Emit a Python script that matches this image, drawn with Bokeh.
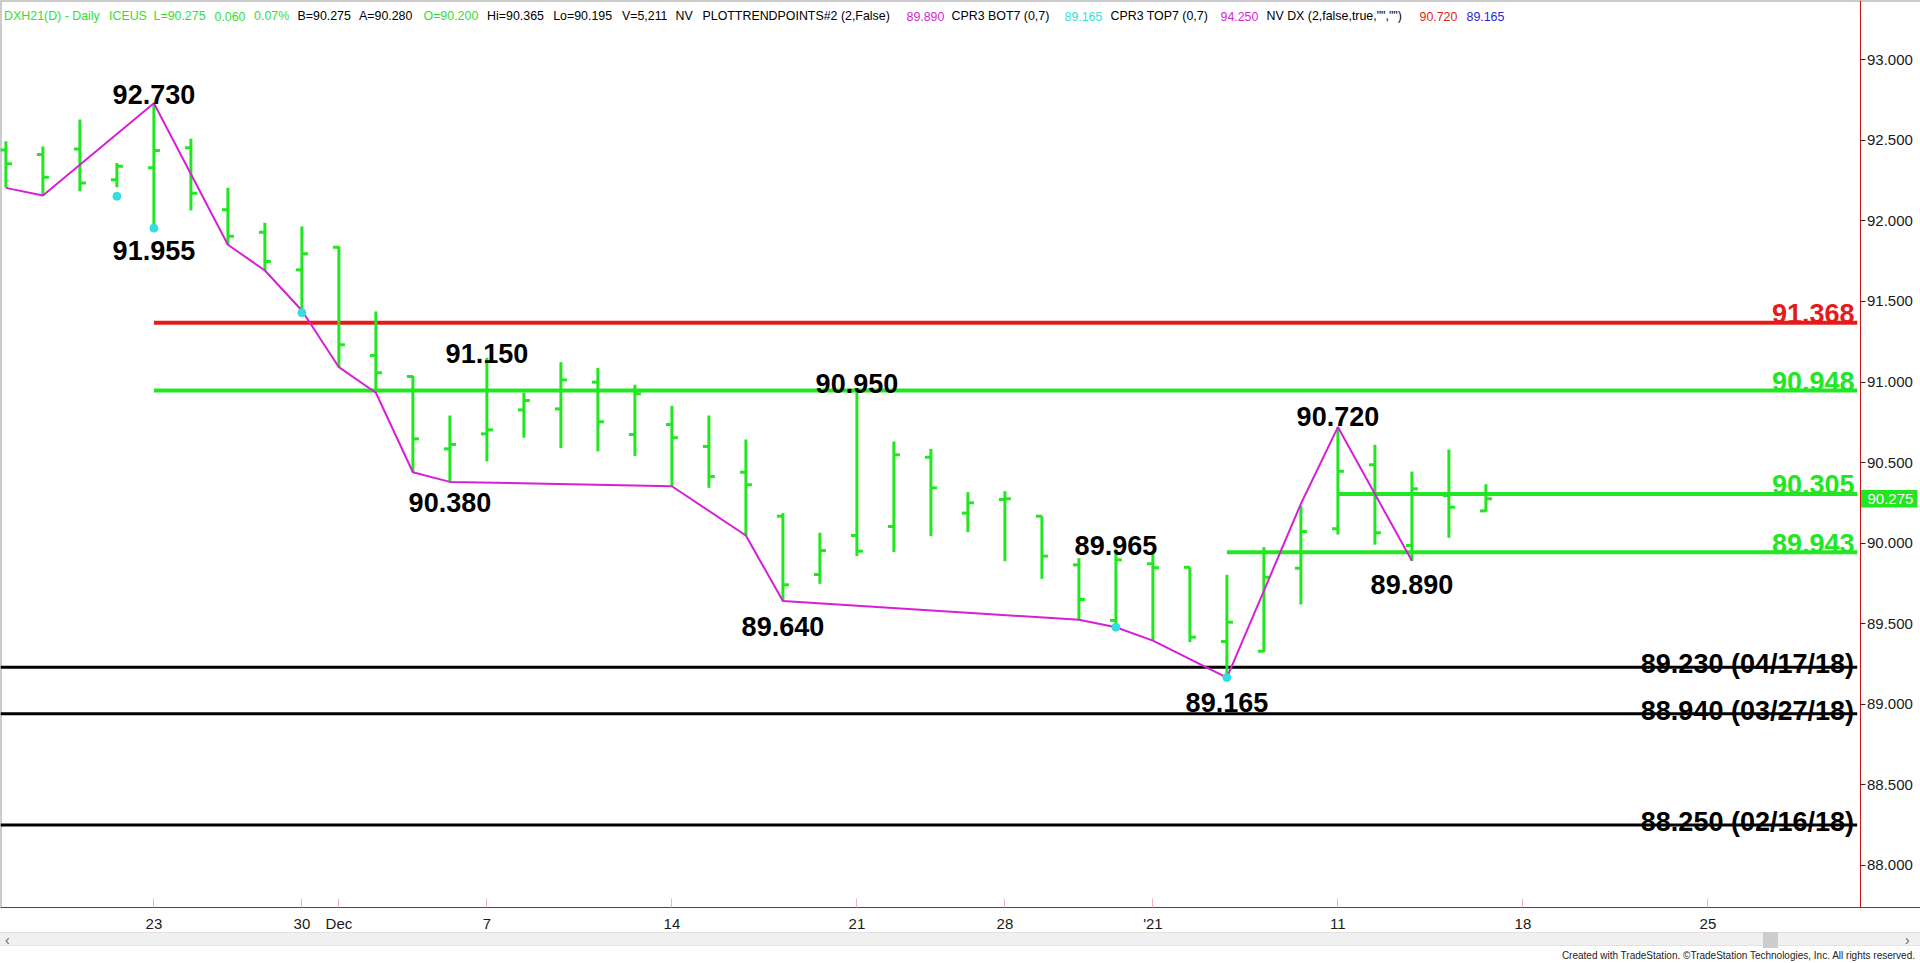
from bokeh.plotting import figure
from bokeh.models import (Range1d, LinearAxis, FixedTicker, NumeralTickFormatter,
                          ColumnDataSource, Div)
from bokeh.layouts import column
from bokeh.embed import file_html
from bokeh.resources import INLINE
from bokeh.core.properties import value

# ---------------- data ----------------
dates = ["2020-11-17", "2020-11-18", "2020-11-19", "2020-11-20", "2020-11-23", "2020-11-24",
         "2020-11-25", "2020-11-27", "2020-11-30", "2020-12-01", "2020-12-02", "2020-12-03",
         "2020-12-04", "2020-12-07", "2020-12-08", "2020-12-09", "2020-12-10", "2020-12-11",
         "2020-12-14", "2020-12-15", "2020-12-16", "2020-12-17", "2020-12-18", "2020-12-21",
         "2020-12-22", "2020-12-23", "2020-12-24", "2020-12-28", "2020-12-29", "2020-12-30",
         "2020-12-31", "2021-01-04", "2021-01-05", "2021-01-06", "2021-01-07", "2021-01-08",
         "2021-01-11", "2021-01-12", "2021-01-13", "2021-01-14", "2021-01-15"]
future_dates = ["2021-01-18", "2021-01-19", "2021-01-20", "2021-01-21", "2021-01-22",
                "2021-01-25", "2021-01-26", "2021-01-27", "2021-01-28", "2021-01-29",
                "2021-02-01", "2021-02-02"]

opens = [92.440, 92.412, 92.447, 92.255, 92.330, 92.454, 92.069, 91.930, 91.696, 91.837,
         91.165, 91.034, 90.585, 90.678, 90.827, 90.833, 90.999, 90.674, 90.736, 90.600,
         90.440, 90.167, 89.805, 90.047, 90.103, 90.533, 90.186, 90.271, 90.167, 89.865,
         89.520, 89.872, 89.850, 89.389, 89.329, 89.844, 90.089, 90.486, 89.985, 90.295,
         90.200]
highs = [92.495, 92.462, 92.629, 92.360, 92.730, 92.510, 92.205, 91.988, 91.965, 91.841,
         91.438, 91.038, 90.792, 91.150, 90.933, 91.123, 91.088, 90.983, 90.852, 90.792,
         90.643, 90.186, 90.064, 90.950, 90.631, 90.585, 90.316, 90.322, 90.167, 89.906,
         89.965, 89.934, 89.850, 89.803, 89.975, 90.233, 90.720, 90.610, 90.444, 90.581,
         90.365]
lows = [92.205, 92.158, 92.184, 92.209, 91.955, 92.065, 91.852, 91.692, 91.430, 91.092,
        90.933, 90.440, 90.380, 90.508, 90.654, 90.589, 90.570, 90.540, 90.353, 90.343,
        90.047, 89.640, 89.747, 89.919, 89.944, 90.043, 90.068, 89.888, 89.778, 89.524,
        89.478, 89.395, 89.385, 89.165, 89.323, 89.619, 90.053, 89.990, 89.890, 90.033,
        90.195]
closes = [92.354, 92.271, 92.236, 92.340, 92.437, 92.172, 91.905, 91.748, 91.796, 91.231,
          91.057, 90.647, 90.612, 90.703, 90.885, 91.013, 90.753, 90.927, 90.654, 90.413,
          90.362, 89.741, 89.954, 89.950, 90.548, 90.343, 90.250, 90.275, 89.919, 89.650,
          89.896, 89.847, 89.416, 89.509, 89.788, 90.072, 90.446, 90.064, 90.337, 90.223,
          90.275]

tick_dates = ["2020-11-23", "2020-11-30", "2020-12-01", "2020-12-07", "2020-12-14", "2020-12-21",
              "2020-12-28", "2021-01-04", "2021-01-11", "2021-01-18", "2021-01-25"]
tick_labels = ["23", "30", "Dec", "7", "14", "21", "28", "'21", "11", "18", "25"]

price_ticks = [88.0, 88.5, 89.0, 89.5, 90.0, 90.5, 91.0, 91.5, 92.0, 92.5, 93.0]

trend_dates = ["2020-11-17", "2020-11-18", "2020-11-23", "2020-11-25", "2020-11-27", "2020-11-30",
               "2020-12-01", "2020-12-02", "2020-12-03", "2020-12-04", "2020-12-14", "2020-12-16",
               "2020-12-17", "2020-12-30", "2020-12-31", "2021-01-04", "2021-01-06", "2021-01-08",
               "2021-01-11", "2021-01-13"]
trend_values = [92.205, 92.158, 92.730, 91.852, 91.692, 91.444, 91.092, 90.933, 90.440, 90.380,
                90.353, 90.047, 89.640, 89.524, 89.478, 89.395, 89.165, 90.244, 90.720, 89.890]

dot_dates = ["2020-11-20", "2020-11-23", "2020-11-30", "2020-12-31", "2021-01-06"]
dot_values = [92.153, 91.955, 91.430, 89.478, 89.165]

pivot_dates = ["2020-11-23", "2020-11-23", "2020-12-07", "2020-12-21", "2020-12-04",
               "2020-12-17", "2020-12-31", "2021-01-06", "2021-01-11", "2021-01-13"]
pivot_values = [92.730, 91.955, 91.150, 90.950, 90.380, 89.640, 89.965, 89.165, 90.720, 89.890]

level_values = [91.368, 90.948, 90.305, 89.943]
level_start_dates = ["2020-11-23", "2020-11-23", "2021-01-11", "2021-01-06"]

support_values = [89.230, 88.940, 88.250]
support_dates = ["04/17/18", "03/27/18", "02/16/18"]

last_price = 90.275

legend_tokens = ["DXH21(D) - Daily", "ICEUS", "L=90.275", "0.060", "0.07%", "B=90.275",
                 "A=90.280", "O=90.200", "Hi=90.365", "Lo=90.195", "V=5,211", "NV",
                 "PLOTTRENDPOINTS#2 (2,False)", "89.890", "CPR3 BOT7 (0,7)", "89.165",
                 "CPR3 TOP7 (0,7)", "94.250", 'NV DX (2,false,true,"","")', "90.720", "89.165"]

# ---------------- style / layout ----------------
GREEN = "#22e622"
LGREEN = "#33dd33"
RED = "#e51b1b"
MAGENTA = "#d61fd6"
CYAN = "#33dede"
BLUE = "#2424e0"
AXIS_RED = "#cc1111"
FONTNAME = "Liberation Sans"
FONT = value(FONTNAME)

legend_colors = [LGREEN, LGREEN, LGREEN, LGREEN, LGREEN, "black", "black", LGREEN, "black",
                 "black", "black", "black", "black", MAGENTA, "black", CYAN, "black", MAGENTA,
                 "black", RED, BLUE]
legend_px = [3.6, 108.5, 153, 214, 253.6, 297, 358.5, 423, 486.6, 552.7, 621.4, 675,
             702, 906, 951, 1064, 1110, 1220, 1266, 1419, 1466]
pivot_offsets = [-8.5, 22.5, -4, -7, 21, 25.5, -3, 24.5, -10.5, 23.7]
level_colors = [RED, GREEN, GREEN, GREEN]

W, H = 1920, 932           # figure (frame fills it)
PX_PER_BAR = 37.0
FIRST_BAR_PX = 5.4         # px of the first bar from the left edge
AXIS_PX = 1859.5           # price axis position (px from left)
DATE_AXIS_PX = 907.3       # date axis position (px from top)
PX_PER_POINT = 161.1       # px per 1.0 of price
REF_PRICE, REF_PRICE_PX = 93.0, 59.3

all_dates = dates + future_dates
pos = {d: i for i, d in enumerate(all_dates)}
idx = list(range(len(dates)))

X0 = -FIRST_BAR_PX / PX_PER_BAR
X1 = X0 + W / PX_PER_BAR
XA = X0 + AXIS_PX / PX_PER_BAR
Y1 = REF_PRICE + REF_PRICE_PX / PX_PER_POINT
Y0 = Y1 - H / PX_PER_POINT
YA = Y1 - DATE_AXIS_PX / PX_PER_POINT

p = figure(width=W, height=H, x_range=Range1d(X0, X1), y_range=Range1d(Y0, Y1),
           output_backend="svg", toolbar_location=None,
           x_axis_location=None, y_axis_location=None,
           min_border_left=0, min_border_top=0, min_border_right=0, min_border_bottom=0,
           background_fill_color="white", border_fill_color="white")
p.xgrid.visible = False
p.ygrid.visible = False
p.outline_line_color = None

# chart border (top and left)
p.segment(x0=[X0, X0], y0=[Y1, YA], x1=[X1, X0], y1=[Y1, Y1], line_color="#9a9a9a", line_width=2)

# price axis
yax = LinearAxis(fixed_location=XA, bounds=(YA, Y1), ticker=FixedTicker(ticks=price_ticks),
                 formatter=NumeralTickFormatter(format="0.000"))
yax.axis_line_color = AXIS_RED
yax.major_tick_in = 0
yax.major_tick_out = 5
yax.major_tick_line_color = "#3a2020"
yax.minor_tick_line_color = None
yax.major_label_standoff = 2
yax.major_label_text_font = FONTNAME
yax.major_label_text_font_size = "15px"
yax.major_label_text_color = "#1a1a1a"
p.add_layout(yax, "right")

# date axis
tick_pos = [pos[d] for d in tick_dates]
xax = LinearAxis(fixed_location=YA, ticker=FixedTicker(ticks=tick_pos),
                 major_label_overrides={t: lab for t, lab in zip(tick_pos, tick_labels)})
xax.axis_line_color = AXIS_RED
xax.major_tick_in = 9
xax.major_tick_out = 0
xax.major_tick_line_color = "#f2b4b4"
xax.minor_tick_line_color = None
xax.major_label_standoff = 7
xax.major_label_text_font = FONTNAME
xax.major_label_text_font_size = "15px"
xax.major_label_text_color = "#1a1a1a"
p.add_layout(xax, "below")

LINE_END = XA - 2.8 / PX_PER_BAR

# level lines
lvl = ColumnDataSource(dict(x0=[pos[d] for d in level_start_dates],
                            x1=[LINE_END] * len(level_values), xa=[XA] * len(level_values),
                            y=level_values, color=level_colors,
                            txt=[f"{v:.3f}" for v in level_values]))
p.segment(x0="x0", y0="y", x1="x1", y1="y", line_color="color", line_width=4, source=lvl)
p.text(x="xa", y="y", text="txt", text_color="color", text_font=FONT, text_font_style="bold",
       text_font_size="27px", text_align="right", text_baseline="alphabetic",
       x_offset=-5.5, y_offset=-9, source=lvl)

sup = ColumnDataSource(dict(x0=[X0] * len(support_values), x1=[LINE_END] * len(support_values),
                            xa=[XA] * len(support_values), y=support_values,
                            txt=[f"{v:.3f} ({d})" for v, d in zip(support_values, support_dates)]))
p.segment(x0="x0", y0="y", x1="x1", y1="y", line_color="black", line_width=3, source=sup)
p.text(x="xa", y="y", text="txt", text_color="black", text_font=FONT, text_font_style="bold",
       text_font_size="27px", text_align="right", text_baseline="alphabetic",
       x_offset=-6, y_offset=-3, source=sup)

# OHLC bars
tw = 6 / PX_PER_BAR
bars = ColumnDataSource(dict(x=idx, o=opens, h=highs, l=lows, c=closes,
                             xl=[i - tw for i in idx], xr=[i + tw for i in idx]))
p.segment(x0="x", y0="l", x1="x", y1="h", line_color=GREEN, line_width=3, source=bars)
p.segment(x0="xl", y0="o", x1="x", y1="o", line_color=GREEN, line_width=3, source=bars)
p.segment(x0="x", y0="c", x1="xr", y1="c", line_color=GREEN, line_width=3, source=bars)

# trend line and dots
p.line([pos[d] for d in trend_dates], trend_values, line_color=MAGENTA, line_width=2)
p.scatter([pos[d] for d in dot_dates], dot_values, size=8, fill_color=CYAN, line_color=CYAN)

# pivot labels
pv = ColumnDataSource(dict(x=[pos[d] for d in pivot_dates], y=pivot_values,
                           txt=[f"{v:.3f}" for v in pivot_values], off=pivot_offsets))
p.text(x="x", y="y", text="txt", text_color="black", text_font=FONT, text_font_style="bold",
       text_font_size="27px", text_align="center", text_baseline="alphabetic",
       y_offset="off", source=pv)

# legend line at top
lg = ColumnDataSource(dict(x=[X0] * len(legend_tokens), y=[Y1] * len(legend_tokens),
                           txt=legend_tokens, color=legend_colors, xo=legend_px))
p.text(x="x", y="y", text="txt", text_color="color", text_font=FONT, text_font_size="12.4px",
       text_align="left", text_baseline="alphabetic", x_offset="xo", y_offset=15.8, source=lg)

# last price marker on the price axis
MARK_W = 57.5 / PX_PER_BAR
p.rect(x=[XA + MARK_W / 2], y=[last_price], width=[MARK_W], height=17.6, height_units="screen",
       fill_color=GREEN, line_color=None)
p.text(x=[XA], y=[last_price], text=[f"{last_price:.3f}"], text_color="white", text_font=FONT,
       text_font_size="15px", text_align="left", text_baseline="middle", x_offset=7.5)

footer = Div(width=1920, height=31, margin=0, text="""
<div style="position:relative;width:1920px;height:31px;font-family:'Liberation Sans',Arial,sans-serif;">
 <div style="position:absolute;left:0;top:0;width:1920px;height:14px;background:#f0f0f0;border-top:1px solid #e2e2e2;border-bottom:1px solid #e2e2e2;"></div>
 <div style="position:absolute;left:5px;top:0;font-size:14px;line-height:16px;color:#666;">&#8249;</div>
 <div style="position:absolute;left:1905px;top:0;font-size:14px;line-height:16px;color:#666;">&#8250;</div>
 <div style="position:absolute;left:1763px;top:0;width:15px;height:16px;background:#cdcdcd;"></div>
 <div style="position:absolute;right:5px;top:18px;font-size:10px;line-height:11px;color:#222;white-space:nowrap;">Created with TradeStation. &#169;TradeStation Technologies, Inc. All rights reserved.</div>
</div>""")

layout = column(p, footer, spacing=0)
open("out.html", "w").write(file_html(layout, INLINE))
